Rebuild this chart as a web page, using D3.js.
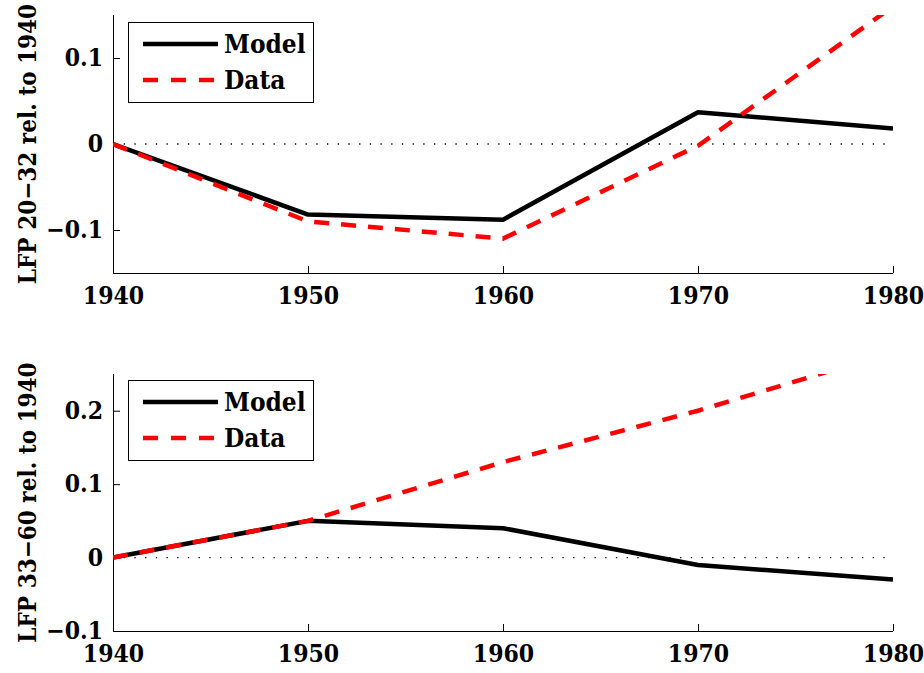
<!DOCTYPE html>
<html>
<head>
<meta charset="utf-8">
<script src="https://cdn.jsdelivr.net/npm/d3@7"></script>
<style>
  body { margin: 0; background: #fff; }
  .axis path, .axis line { stroke: #000; stroke-width: 1; }
</style>
</head>
<body>
<div id="chart"></div>
<script>
// data
const years = [1940, 1950, 1960, 1970, 1980];
const youngModel = [0, -0.082, -0.088, 0.037, 0.018];
const youngData = [0, -0.090, -0.110, -0.002, 0.160];
const oldModel = [0, 0.050, 0.040, -0.010, -0.030];
const oldData = [0, 0.050, 0.130, 0.200, 0.280];
const youngTicks = [-0.1, 0, 0.1];
const oldTicks = [-0.1, 0, 0.1, 0.2];
const seriesNames = ['Model', 'Data'];

const W = 924, H = 673;
const FONT = '"DejaVu Serif Condensed", "DejaVu Serif", serif';
const WEIGHT = 'bold';

const svg = d3.select('#chart').append('svg')
    .attr('width', W).attr('height', H)
    .attr('font-family', FONT);

const xScale = d3.scaleLinear().domain([1940, 1980]).range([113, 893]);

const panels = [
    {label: 'LFP 20\u221232 rel. to 1940', model: youngModel, data: youngData,
     domain: [-0.15, 0.15], ticks: youngTicks, top: 15, bottom: 273, legendTop: 22},
    {label: 'LFP 33\u221260 rel. to 1940', model: oldModel, data: oldData,
     domain: [-0.1, 0.25], ticks: oldTicks, top: 374, bottom: 631, legendTop: 380}
];

panels.forEach(function(p, pi) {
    const y = d3.scaleLinear().domain(p.domain).range([p.bottom, p.top]);
    const g = svg.append('g');

    svg.append('clipPath').attr('id', 'clip' + pi)
        .append('rect')
        .attr('x', xScale.range()[0]).attr('y', p.top)
        .attr('width', xScale.range()[1] - xScale.range()[0])
        .attr('height', p.bottom - p.top);

    // zero reference line (dotted)
    g.append('line')
        .attr('x1', xScale(1940)).attr('x2', xScale(1980))
        .attr('y1', y(0)).attr('y2', y(0))
        .attr('stroke', '#000').attr('stroke-width', 1.3)
        .attr('stroke-dasharray', '1.3,9.4');

    // axes
    const xAxis = g.append('g').attr('class', 'axis')
        .attr('transform', 'translate(0,' + p.bottom + ')')
        .call(d3.axisBottom(xScale).tickValues(years).tickFormat(d3.format('d'))
            .tickSizeInner(-7).tickSizeOuter(0).tickPadding(14));
    const yAxis = g.append('g').attr('class', 'axis')
        .attr('transform', 'translate(' + xScale.range()[0] + ',0)')
        .call(d3.axisLeft(y).tickValues(p.ticks).tickFormat(d3.format(''))
            .tickSizeInner(-7).tickSizeOuter(0).tickPadding(10));
    g.selectAll('.axis').attr('font-family', FONT).attr('font-size', 24);
    g.selectAll('.axis text').attr('fill', '#000')
        .style('font-family', FONT).style('font-weight', WEIGHT).style('font-size', '24.5px');
    xAxis.select('.domain').attr('d', 'M' + xScale.range()[0] + ',0.5H' + xScale.range()[1]);
    yAxis.select('.domain').attr('d', 'M0.5,' + p.top + 'V' + p.bottom);

    // y label
    g.append('text')
        .attr('transform', 'translate(36,' + ((p.top + p.bottom) / 2) + ') rotate(-90)')
        .attr('text-anchor', 'middle')
        .style('font-family', FONT).style('font-weight', WEIGHT)
        .style('font-size', '24px')
        .text(p.label);

    const line = d3.line()
        .x(function(d, i) { return xScale(years[i]); })
        .y(function(d) { return y(d); });

    const lines = g.append('g').attr('clip-path', 'url(#clip' + pi + ')');
    lines.append('path').datum(p.model)
        .attr('d', line).attr('fill', 'none')
        .attr('stroke', '#000').attr('stroke-width', 4.5)
        .attr('stroke-linejoin', 'round');
    lines.append('path').datum(p.data)
        .attr('d', line).attr('fill', 'none')
        .attr('stroke', '#ff0000').attr('stroke-width', 4.5)
        .attr('stroke-dasharray', '15,12');

    // legend
    const lg = g.append('g').attr('transform', 'translate(128,' + p.legendTop + ')');
    lg.append('rect').attr('x', 0.5).attr('y', 0.5).attr('width', 185).attr('height', 80)
        .attr('fill', '#fff').attr('stroke', '#000').attr('stroke-width', 1);
    seriesNames.forEach(function(name, i) {
        const ly = 22 + i * 36;
        lg.append('line')
            .attr('x1', 15).attr('x2', 90).attr('y1', ly).attr('y2', ly)
            .attr('stroke', i === 0 ? '#000' : '#ff0000').attr('stroke-width', 4.5)
            .attr('stroke-dasharray', i === 0 ? null : '15,13');
        lg.append('text').attr('x', 96).attr('y', ly).attr('dy', '0.35em')
            .style('font-family', FONT).style('font-weight', WEIGHT)
            .style('font-size', '26px').text(name);
    });
});
</script>
</body>
</html>
